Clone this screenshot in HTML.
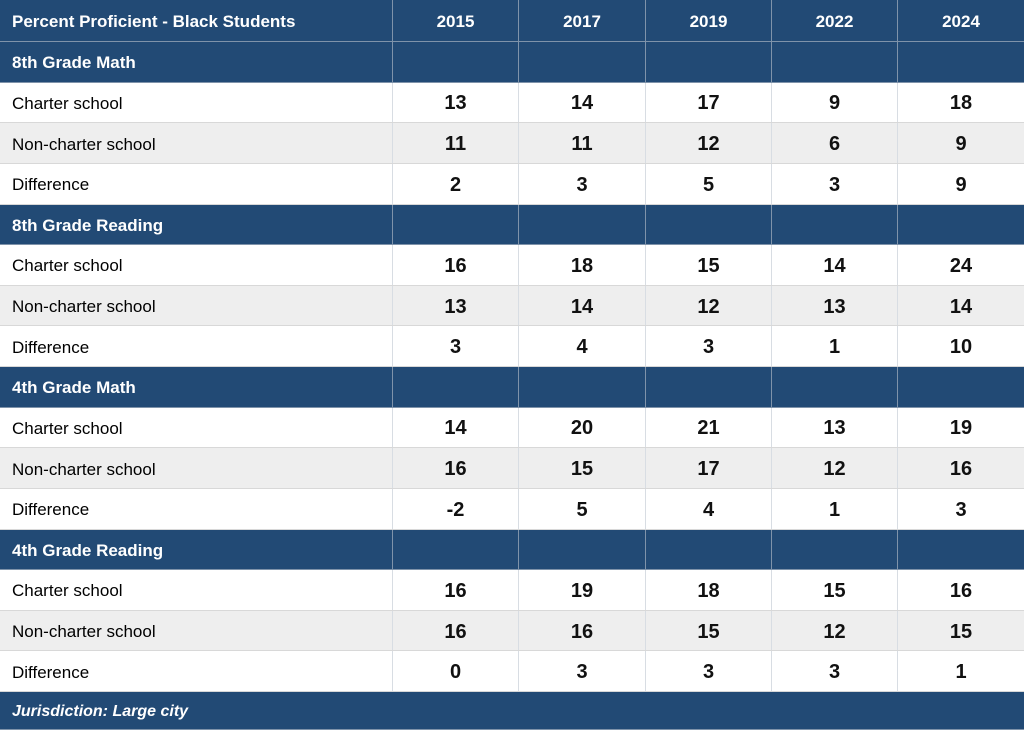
<!DOCTYPE html>
<html><head><meta charset="utf-8">
<style>
body{margin:0;width:1024px;height:730px;overflow:hidden;background:#fff;font-family:"Liberation Sans",Arial,sans-serif;}
#t{position:relative;width:1024px;height:730px;}
.r{position:absolute;left:0;width:1024px;box-sizing:border-box;border-bottom:1px solid #d8d8d8;}
.c{position:absolute;top:0;height:100%;display:flex;align-items:center;box-sizing:border-box;border-left:1px solid #d8dde3;padding-top:3px;}
.blue{background:#224a75;color:#fff;border-bottom:1px solid #7f93aa;}
.blue .c{border-left:1px solid #7f93aa;}
.lab{padding-left:12px;font-size:17px;}
.val{justify-content:center;font-size:20px;font-weight:bold;color:#111;}
.hd{font-weight:bold;font-size:17px;}
.gray{background:#eeeeee;}
</style></head><body>
<div id="t"></div>
<script>
const years = ["2015","2017","2019","2022","2024"];
const sections = ["8th Grade Math","8th Grade Reading","4th Grade Math","4th Grade Reading"];
const charterValues = [[13,14,17,9,18],[16,18,15,14,24],[14,20,21,13,19],[16,19,18,15,16]];
const nonCharterValues = [[11,11,12,6,9],[13,14,12,13,14],[16,15,17,12,16],[16,16,15,12,15]];
const differenceValues = [[2,3,5,3,9],[3,4,3,1,10],[-2,5,4,1,3],[0,3,3,3,1]];
const rowLabels = ["Charter school","Non-charter school","Difference"];

const T = document.getElementById('t');
const colX = [0,392,518,645,771,897,1024];
function row(top,h,cls,name){
  const r=document.createElement('div');
  r.className='r '+cls;
  r.style.top=top+'px';r.style.height=h+'px';
  
  
  T.appendChild(r);return r;
}
function cell(r,i,text,cls,name){
  const c=document.createElement('div');
  c.className='c '+cls;
  c.style.left=colX[i]+'px';c.style.width=(colX[i+1]-colX[i])+'px';
  if(i===0)c.style.borderLeft='none';
  c.textContent=text;
  
  
  r.appendChild(c);return c;
}
let hr=row(0,42,'blue','header-row');
cell(hr,0,'Percent Proficient - Black Students','lab hd','table-title');
years.forEach((y,i)=>{let c=cell(hr,i+1,y,'val hd','year-header-'+y);c.style.color='#fff';c.style.fontSize='17px';});
const rh=40.625;
sections.forEach((s,si)=>{
  let top=42+si*4*rh;
  let sr=row(top,rh,'blue','section-row');
  cell(sr,0,s,'lab hd','section-title');
  years.forEach((y,i)=>cell(sr,i+1,'','','section-cell'));
  const data=[charterValues[si],nonCharterValues[si],differenceValues[si]];
  data.forEach((vals,ri)=>{
    let r=row(top+(ri+1)*rh,rh,ri===1?'gray':'','data-row');
    cell(r,0,rowLabels[ri],'lab','row-label');
    vals.forEach((v,i)=>cell(r,i+1,String(v),'val','value-cell'));
  });
});
let fr=row(692,38,'blue','footer-row');
let fc=cell(fr,0,'Jurisdiction: Large city','lab','footer-note');
fc.style.width='1024px';fc.style.fontStyle='italic';fc.style.fontWeight='bold';fc.style.fontSize='16px';
</script>
</body></html>
